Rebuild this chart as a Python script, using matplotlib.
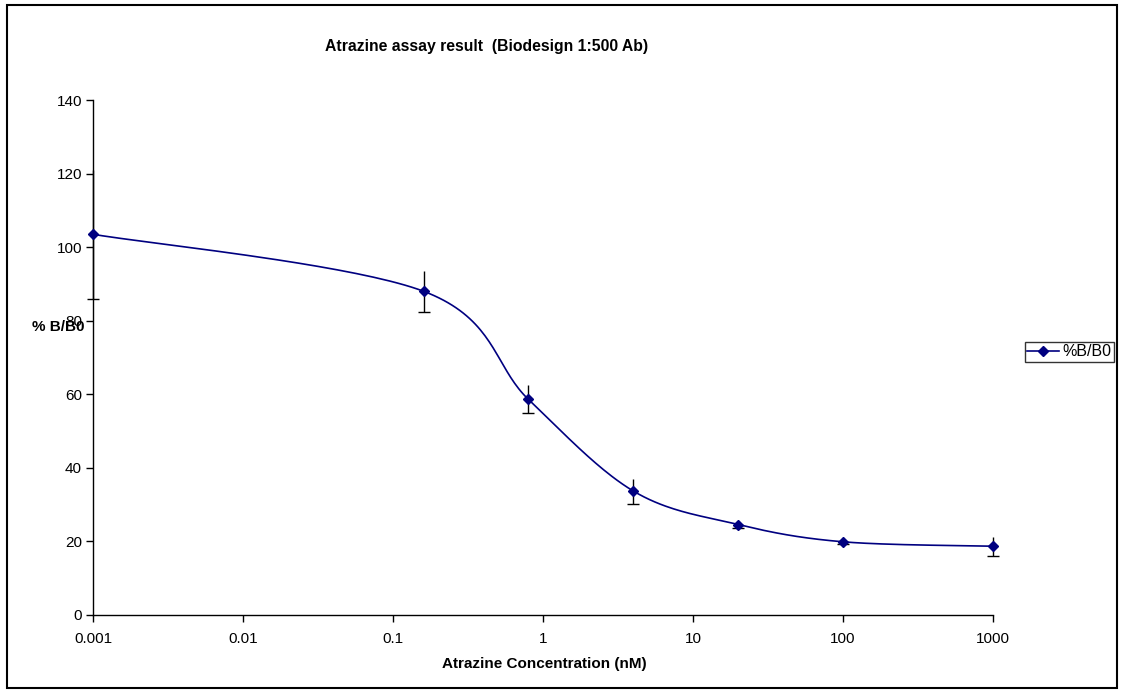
import numpy as np
import matplotlib
matplotlib.use("Agg")
from matplotlib import pyplot as plt
from matplotlib.patches import Rectangle
from matplotlib.lines import Line2D

plt.rcParams["font.family"] = ["Liberation Sans", "DejaVu Sans"]

# data
conc = [0.001, 0.16, 0.8, 4, 20, 100, 1000]
pct_b_b0 = [103.5, 88.0, 58.6, 33.7, 24.6, 19.9, 18.7]
err = [17.5, 5.6, 3.8, 3.4, 0.9, 0.6, 2.6]
xticks = [0.001, 0.01, 0.1, 1, 10, 100, 1000]
xtick_labels = ["0.001", "0.01", "0.1", "1", "10", "100", "1000"]
yticks = [0, 20, 40, 60, 80, 100, 120, 140]


def smooth_curve(xs, ys, n=40):
    # Excel-like smoothed line: bezier through points, done in screen-ish space
    u = np.log10(xs) * 150.0
    v = np.asarray(ys) * 3.68
    pts = np.column_stack([u, v])
    p = np.vstack([pts[0], pts, pts[-1]])
    out = []
    t = np.linspace(0, 1, n)[:, None]
    for i in range(1, len(p) - 2):
        p0, p1, p2, p3 = p[i - 1], p[i], p[i + 1], p[i + 2]
        b1 = p1 + (p2 - p0) / 6.0
        b2 = p2 - (p3 - p1) / 6.0
        seg = ((1 - t) ** 3) * p1 + 3 * ((1 - t) ** 2) * t * b1 \
            + 3 * (1 - t) * t ** 2 * b2 + t ** 3 * p2
        out.append(seg)
    out = np.vstack(out)
    return 10 ** (out[:, 0] / 150.0), out[:, 1] / 3.68


fig = plt.figure(figsize=(11.25, 6.93), dpi=100)
ax = fig.add_axes([93 / 1125, 1 - 615 / 693, 900 / 1125, 515 / 693])

navy = "#000080"
sx, sy = smooth_curve(conc, pct_b_b0)
ax.plot(sx, sy, color=navy, lw=1.2, zorder=2)
# error bars: vertical lines, cap only on the lower end (as in the reference)
ax.errorbar(conc, pct_b_b0, yerr=err, fmt="none", ecolor="black",
            elinewidth=1.0, capsize=0, zorder=3, clip_on=False)
lower = np.array(pct_b_b0) - np.array(err)
ax.plot(conc, lower, ls="none", marker="_", ms=9, mew=1.0, color="black",
        zorder=3, clip_on=False)
ax.plot(conc, pct_b_b0, ls="none", marker="D", ms=5.5, color=navy, zorder=4,
        clip_on=False)

ax.set_xscale("log")
ax.set_xlim(0.001, 1000)
ax.set_ylim(0, 140)
ax.set_xticks(xticks)
ax.set_xticklabels(xtick_labels)
ax.xaxis.set_minor_locator(matplotlib.ticker.NullLocator())
ax.set_yticks(yticks)

for side in ["top", "right"]:
    ax.spines[side].set_visible(False)
for side in ["left", "bottom"]:
    ax.spines[side].set_linewidth(1.0)
ax.tick_params(axis="both", direction="out", length=5, width=1,
               labelsize=11)
ax.tick_params(axis="x", pad=7)
ax.tick_params(axis="y", pad=3)

fig.text(487 / 1125, 1 - 46 / 693, "Atrazine assay result  (Biodesign 1:500 Ab)",
         ha="center", va="center", fontsize=11.3, fontweight="bold")
fig.text(544 / 1125, 1 - 664 / 693, "Atrazine Concentration (nM)",
         ha="center", va="center", fontsize=11, fontweight="bold")
fig.text(58 / 1125, 1 - 327 / 693, "% B/B0", ha="center", va="center",
         fontsize=11, fontweight="bold")

handle = Line2D([], [], color=navy, lw=1.2, marker="D", ms=5.5)
leg = fig.legend([handle], ["%B/B0"], loc="center left",
                 bbox_to_anchor=(1025 / 1125, 1 - 352 / 693),
                 fontsize=11.5, frameon=True, fancybox=False,
                 handlelength=2.0, borderpad=0.15, handletextpad=0.2,
                 borderaxespad=0.0)
leg.get_frame().set_edgecolor("black")
leg.get_frame().set_linewidth(1.0)

fig.patches.append(Rectangle((7 / 1125, 1 - 688 / 693), 1110 / 1125, 683 / 693,
                             transform=fig.transFigure, fill=False,
                             edgecolor="black", linewidth=1.5))

fig.savefig("out.png", dpi=100)
